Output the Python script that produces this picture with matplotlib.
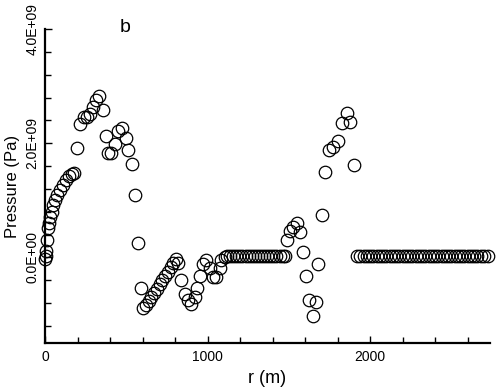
import numpy as np
import matplotlib.pyplot as plt
from matplotlib.ticker import MultipleLocator, FuncFormatter

plt.rcParams['font.family'] = ['Liberation Sans', 'DejaVu Sans']

# r (m) and pressure (1e9 Pa)
r_rise = [0, 4, 8, 12, 18, 25, 31, 43, 49, 62, 74, 92, 111, 129, 148, 166, 178]
p_rise = [-0.03, 0.03, 0.12, 0.30, 0.51, 0.61, 0.70, 0.79, 0.91, 1.00, 1.09,
          1.18, 1.26, 1.35, 1.42, 1.46, 1.48]

r_peak1 = [197, 215, 240, 258, 277, 295, 314, 332, 357, 375, 388, 406, 431,
           449, 474, 498, 511, 535, 554, 572, 590]
p_peak1 = [1.91, 2.33, 2.46, 2.46, 2.51, 2.63, 2.75, 2.82, 2.58, 2.12, 1.82,
           1.82, 1.98, 2.21, 2.26, 2.09, 1.88, 1.63, 1.09, 0.26, -0.54]

r_diag = [603, 620, 637, 654, 671, 688, 705, 722, 739, 756, 773, 790, 806]
p_diag = [-0.89, -0.84, -0.76, -0.69, -0.62, -0.55, -0.47, -0.40, -0.33,
          -0.25, -0.17, -0.10, -0.03]

r_wave = [818, 837, 862, 880, 898, 923, 935, 954, 972, 991, 1015, 1034, 1052,
          1077, 1083, 1108]
p_wave = [-0.09, -0.40, -0.65, -0.75, -0.81, -0.70, -0.53, -0.32, -0.11,
          -0.05, -0.19, -0.35, -0.35, -0.19, -0.05, 0.0]

r_flat1 = [1120, 1139, 1158, 1177, 1196, 1215, 1234, 1253, 1272, 1291, 1310,
           1329, 1348, 1367, 1386, 1405, 1424, 1443, 1462, 1477]
p_flat1 = [0.02, 0.02, 0.02, 0.02, 0.02, 0.02, 0.02, 0.02, 0.02, 0.02, 0.02,
           0.02, 0.02, 0.02, 0.02, 0.02, 0.02, 0.02, 0.02, 0.02]

r_peak2 = [1489, 1508, 1526, 1551, 1569, 1588, 1606, 1625, 1649, 1668, 1680,
           1705, 1723, 1748, 1772, 1803, 1828, 1858, 1877, 1902]
p_peak2 = [0.30, 0.47, 0.54, 0.60, 0.44, 0.09, -0.33, -0.75, -1.02, -0.79,
           -0.11, 0.74, 1.49, 1.88, 1.93, 2.04, 2.35, 2.53, 2.37, 1.61]

r_flat2 = [1920, 1940, 1960, 1980, 2000, 2020, 2040, 2060, 2080, 2100, 2120,
           2140, 2160, 2180, 2200, 2220, 2240, 2260, 2280, 2300, 2320, 2340,
           2360, 2380, 2400, 2420, 2440, 2460, 2480, 2500, 2520, 2540, 2560,
           2580, 2600, 2620, 2640, 2660, 2680, 2700, 2726]
p_flat2 = [0.02] * len(r_flat2)

r = np.array(r_rise + r_peak1 + r_diag + r_wave + r_flat1 + r_peak2 + r_flat2)
p = np.array(p_rise + p_peak1 + p_diag + p_wave + p_flat1 + p_peak2 + p_flat2) * 1e9

fig = plt.figure(figsize=(5, 3.9), dpi=100)
ax = fig.add_axes([0.09, 0.1205, 0.89, 0.805])

ax.plot(r, p, 'o', mfc='none', mec='black', ms=9, mew=0.9, clip_on=False)

ax.set_xlim(0, 2738)
ax.set_ylim(-1.5e9, 4.0e9)

ax.spines['top'].set_visible(False)
ax.spines['right'].set_visible(False)
ax.spines['left'].set_linewidth(1.6)
ax.spines['bottom'].set_linewidth(1.6)

ax.xaxis.set_major_locator(MultipleLocator(1000))
ax.xaxis.set_minor_locator(MultipleLocator(200))
ax.yaxis.set_major_locator(MultipleLocator(2e9))
ax.yaxis.set_minor_locator(MultipleLocator(0.4e9))
ax.yaxis.set_major_formatter(FuncFormatter(lambda v, pos: f'{v:.1E}'))

ax.tick_params(which='both', direction='in', width=1.0, labelsize=10)
ax.tick_params(which='major', length=5)
ax.tick_params(which='minor', length=4)
ax.tick_params(axis='x', pad=5)
ax.tick_params(axis='y', pad=4)
for lab in ax.get_yticklabels():
    lab.set_rotation(90)
    lab.set_va('center')

ax.set_xlabel('r (m)', fontsize=13, labelpad=4)
ax.set_ylabel('Pressure (Pa)', fontsize=12, labelpad=4)

fig.text(125 / 500, 1 - 28 / 390, 'b', fontsize=14, ha='center', va='center')

fig.savefig('out.png', dpi=100)
